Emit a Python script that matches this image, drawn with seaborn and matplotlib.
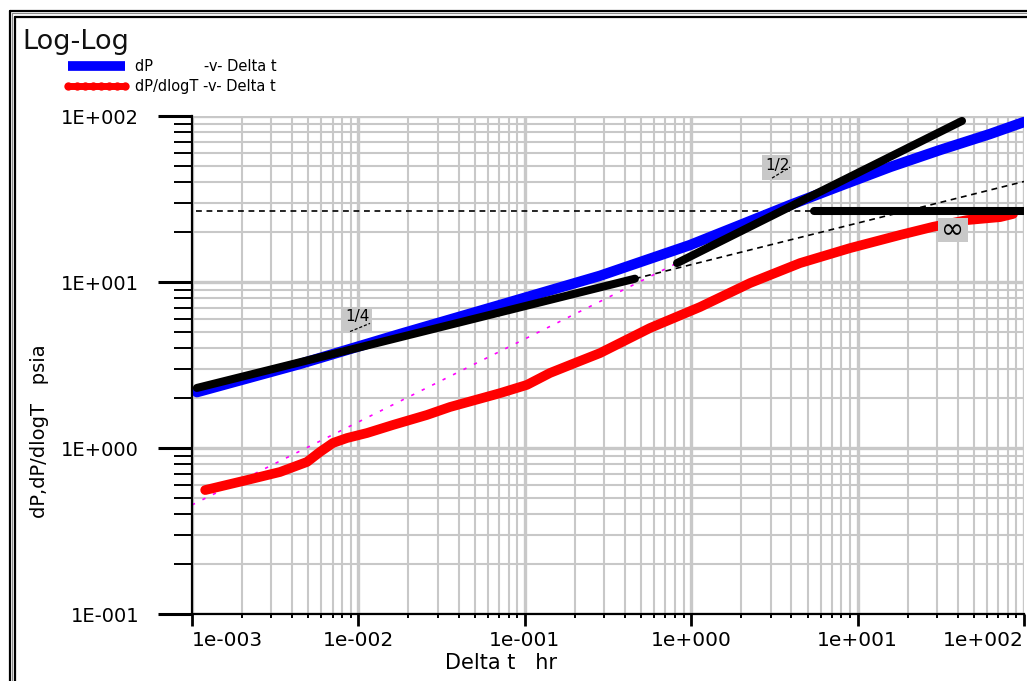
import numpy as np
import pandas as pd
import matplotlib
matplotlib.use("Agg")
import matplotlib.pyplot as plt
import matplotlib.ticker as mticker
from matplotlib.lines import Line2D
from matplotlib.patches import Rectangle
from matplotlib.text import Text
from matplotlib.offsetbox import DrawingArea, AnnotationBbox
import seaborn as sns

# ---- data -----------------------------------------------------------------
# pressure change dP (psia) against elapsed time (hr)
dp_t = [1.07e-3, 4.46e-3, 0.0178, 0.0710, 0.283, 0.984, 1.96, 3.93, 7.84,
        15.7, 31.3, 62.5, 100.0]
dp_p = [2.17, 3.21, 4.86, 7.27, 10.9, 16.7, 22.0, 29.1, 37.9,
        49.3, 62.4, 77.9, 92.0]

# pressure derivative dP/dlogT (psia) against elapsed time (hr)
der_t = [1.20e-3, 2.14e-3, 3.38e-3, 4.91e-3, 5.87e-3, 7.03e-3, 8.53e-3,
         0.01127, 0.01614, 0.0258, 0.0355, 0.0710, 0.103, 0.1416, 0.200,
         0.283, 0.565, 1.13, 2.26, 4.51, 9.0, 18.0, 28.4, 45.4, 71.8, 85.9]
der_p = [0.558, 0.641, 0.717, 0.824, 0.946, 1.072, 1.148,
         1.231, 1.377, 1.581, 1.766, 2.14, 2.40, 2.83, 3.25,
         3.73, 5.28, 7.07, 9.86, 13.0, 16.0, 19.2, 21.5, 23.6, 24.6, 25.7]

# flow-regime straight lines (slope 1/4, slope 1/2, radial flow)
quarter_t = [1.07e-3, 0.459]
quarter_p = [2.30, 10.47]
half_t = [0.822, 42.4]
half_p = [13.0, 93.4]
flat_t = [5.5, 100.0]
flat_p = [26.8, 26.8]

# thin construction lines extending the straight lines
quarter_ext_t = [0.459, 100.0]
quarter_ext_p = [10.47, 40.3]
half_ext_t = [1.0e-3, 0.822]
half_ext_p = [0.454, 13.0]
flat_ext_t = [1.05e-3, 5.5]
flat_ext_p = [26.8, 26.8]

# slope tags
tag_text = ["1/4", "1/2", "\u221e"]
tag_t = [9.88e-3, 3.28, 37.4]
tag_p = [5.90, 48.9, 20.6]

x_major = [1e-3, 1e-2, 1e-1, 1e0, 1e1, 1e2]
y_major = [1e-1, 1e0, 1e1, 1e2]

legend_labels = ["dP" + " " * 11 + "-v- Delta t", "dP/dlogT -v- Delta t"]

# ---- figure ---------------------------------------------------------------
sns.set_theme(style="ticks")
plt.rcParams["font.family"] = ["DejaVu Sans"]
plt.rcParams["text.color"] = "black"
plt.rcParams["axes.labelcolor"] = "black"

W, H = 1027, 681
fig = plt.figure(figsize=(W / 100, H / 100), dpi=100)
ax = fig.add_axes([192 / W, 1 - 614 / H, 832 / W, 498 / H])
ax.set_xscale("log")
ax.set_yscale("log")

blue, red = "#0000ff", "#ff0000"

# construction lines
sns.lineplot(x=half_ext_t, y=half_ext_p, ax=ax, color="#ff00ff", linewidth=1.2,
             linestyle=(0, (2, 5)), zorder=2, legend=False)
sns.lineplot(x=quarter_ext_t, y=quarter_ext_p, ax=ax, color="black", linewidth=1.2,
             linestyle=(0, (3.5, 2.8)), zorder=2, legend=False)
sns.lineplot(x=flat_ext_t, y=flat_ext_p, ax=ax, color="black", linewidth=1.2,
             linestyle=(0, (3.5, 2.8)), zorder=2, legend=False)

# measured curves
sns.lineplot(x=der_t, y=der_p, ax=ax, color=red, linewidth=7,
             solid_capstyle="round", solid_joinstyle="round", zorder=3, legend=False)
sns.lineplot(x=dp_t, y=dp_p, ax=ax, color=blue, linewidth=7.5,
             solid_capstyle="round", solid_joinstyle="round", zorder=3, legend=False)

# straight-line fits
for lt, lp in [(quarter_t, quarter_p), (half_t, half_p), (flat_t, flat_p)]:
    sns.lineplot(x=lt, y=lp, ax=ax, color="black", linewidth=5.8,
                 solid_capstyle="round", zorder=4, legend=False)

ax.set_xlim(1e-3, 1e2)
ax.set_ylim(1e-1, 1e2)

# ---- axes styling ---------------------------------------------------------
ax.xaxis.set_major_locator(mticker.FixedLocator(x_major))
ax.yaxis.set_major_locator(mticker.FixedLocator(y_major))
ax.xaxis.set_minor_locator(mticker.LogLocator(base=10, subs=np.arange(2, 10), numticks=100))
ax.yaxis.set_minor_locator(mticker.LogLocator(base=10, subs=np.arange(2, 10), numticks=100))
ax.xaxis.set_minor_formatter(mticker.NullFormatter())
ax.yaxis.set_minor_formatter(mticker.NullFormatter())
ax.xaxis.set_major_formatter(mticker.FuncFormatter(
    lambda v, pos: f"1e{int(round(np.log10(v))):+04d}"))
ax.yaxis.set_major_formatter(mticker.FuncFormatter(
    lambda v, pos: f"1E{int(round(np.log10(v))):+04d}"))

ax.tick_params(axis="both", which="both", direction="out", color="black",
               labelcolor="black", bottom=True, left=True, top=False, right=False)
ax.tick_params(axis="y", which="major", length=24.5, width=2.2, pad=13.5, labelsize=14)
ax.tick_params(axis="y", which="minor", length=13, width=1.4)
ax.tick_params(axis="x", which="major", length=8.6, width=2.0, pad=3.6, labelsize=14.5)
ax.tick_params(axis="x", which="minor", length=3, width=1.4)

ax.grid(True, which="major", color="#c8c8c8", linewidth=2.4)
ax.grid(True, which="minor", color="#c8c8c8", linewidth=1.5)
ax.set_axisbelow(True)

for side in ("top", "right"):
    ax.spines[side].set_visible(False)
for side in ("left", "bottom"):
    ax.spines[side].set_color("black")
    ax.spines[side].set_linewidth(1.6)
    ax.spines[side].set_zorder(6)

ax.set_xlabel("Delta t   hr", fontsize=15, color="black")
ax.set_ylabel("dP,dP/dlogT   psia", fontsize=14, color="black")
ax.xaxis.set_label_coords((501 - 192) / 832, (614 - 653) / 498)
ax.yaxis.set_label_coords((49 - 192) / 832, (614 - 431) / 498)

# ---- slope tags -----------------------------------------------------------
PT = 72 / 100  # points per pixel


def slope_tag(label, t, p, box_px, text_top_px, dash_px, fs):
    w, h = box_px[0] * PT, box_px[1] * PT
    da = DrawingArea(w, h, 0, 0)
    da.add_artist(Rectangle((0, 0), w, h, facecolor="#c8c8c8", edgecolor="none"))
    if text_top_px is None:
        da.add_artist(Text(w / 2, h / 2, label, ha="center", va="center",
                           fontsize=fs, color="black"))
    else:
        da.add_artist(Text(w / 2, h - text_top_px * PT, label, ha="center", va="top",
                           fontsize=fs, color="black"))
    if dash_px is not None:
        (x0, y0), (x1, y1) = dash_px
        da.add_artist(Line2D([x0 * PT, x1 * PT], [y0 * PT, y1 * PT], color="black",
                             linewidth=0.9, linestyle=(0, (2.5, 1.5))))
    ab = AnnotationBbox(da, (t, p), xycoords="data", frameon=False, pad=0,
                        box_alignment=(0.5, 0.5), zorder=5)
    ax.add_artist(ab)


slope_tag(tag_text[0], tag_t[0], tag_p[0], (29, 24), 1, ((7, 0.5), (27, 8.7)), 11)
slope_tag(tag_text[1], tag_t[1], tag_p[1], (30, 25), 3, ((10, 2), (28, 13)), 11)
slope_tag(tag_text[2], tag_t[2], tag_p[2], (30, 24), None, None, 20)

# ---- title, legend, frame -------------------------------------------------
fig.text(22 / W, 1 - 49 / H, "Log-Log", fontsize=19.5, ha="left", va="baseline",
         color="#111111")

handles = [
    Line2D([], [], color=blue, linewidth=7, solid_capstyle="butt"),
    Line2D([], [], color=red, linewidth=5, marker="o", markersize=6,
           markeredgewidth=0, solid_capstyle="butt"),
]
leg = ax.legend(handles, legend_labels, loc="upper left",
                bbox_to_anchor=(64 / W, 1 - 59 / H), bbox_transform=fig.transFigure,
                frameon=False, borderpad=0, borderaxespad=0, handlelength=4.5,
                handletextpad=0.35, labelspacing=0.35, fontsize=10.5, numpoints=8)
for txt in leg.get_texts():
    txt.set_color("black")

for x0, y0, lw, c in [(9.5, 10.5, 1.6, "black"), (12.3, 13.4, 0.8, "#8a8a8a"),
                      (15.2, 16.5, 1.6, "black")]:
    fig.add_artist(Line2D([x0 / W, x0 / W], [0, 1 - y0 / H], transform=fig.transFigure,
                          color=c, linewidth=lw))
    fig.add_artist(Line2D([x0 / W, 1], [1 - y0 / H, 1 - y0 / H],
                          transform=fig.transFigure, color=c, linewidth=lw))

fig.canvas.draw()
xl = ax.get_xticklabels()
xl[0].set_horizontalalignment("left")
xl[-1].set_horizontalalignment("right")

fig.savefig("out.png", dpi=100)
